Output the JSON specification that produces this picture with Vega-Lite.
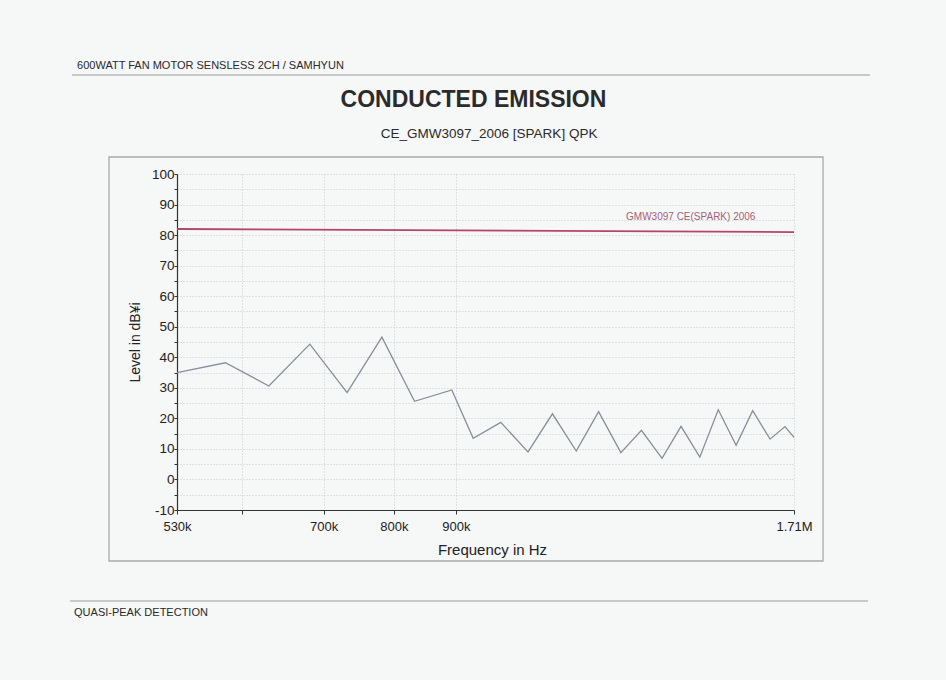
{
  "$schema": "https://vega.github.io/schema/vega-lite/v6.json",
  "width": 617,
  "height": 336,
  "autosize": {"type": "none"},
  "padding": {"left": 177, "top": 174, "right": 152, "bottom": 170},
  "background": "#f6f7f7",
  "config": {
    "view": {"stroke": null},
    "font": "Liberation Sans",
    "axis": {"labelFont": "Liberation Sans", "titleFont": "Liberation Sans"}
  },
  "datasets": {
    "measurement": [
      {"freq": 530000, "level": 35.0},
      {"freq": 581000, "level": 38.2},
      {"freq": 631000, "level": 30.6},
      {"freq": 682000, "level": 44.3},
      {"freq": 732000, "level": 28.4},
      {"freq": 782000, "level": 46.6},
      {"freq": 832000, "level": 25.6},
      {"freq": 893000, "level": 29.3},
      {"freq": 930000, "level": 13.5},
      {"freq": 980000, "level": 18.7},
      {"freq": 1032000, "level": 9.0},
      {"freq": 1081000, "level": 21.5},
      {"freq": 1131000, "level": 9.3},
      {"freq": 1180000, "level": 22.2},
      {"freq": 1231000, "level": 8.8},
      {"freq": 1280000, "level": 16.1},
      {"freq": 1331000, "level": 6.9},
      {"freq": 1380000, "level": 17.4},
      {"freq": 1430000, "level": 7.3},
      {"freq": 1481000, "level": 22.8},
      {"freq": 1532000, "level": 11.2},
      {"freq": 1581000, "level": 22.5},
      {"freq": 1634000, "level": 13.2},
      {"freq": 1681000, "level": 17.3},
      {"freq": 1710000, "level": 13.8}
    ],
    "limit": [
      {"freq": 530000, "level": 82.0, "label": "GMW3097 CE(SPARK) 2006"},
      {"freq": 1710000, "level": 81.0, "label": "GMW3097 CE(SPARK) 2006"}
    ],
    "header": [{"text": "600WATT FAN MOTOR SENSLESS 2CH / SAMHYUN"}],
    "title": [{"text": "CONDUCTED EMISSION"}],
    "subtitle": [{"text": "CE_GMW3097_2006 [SPARK] QPK"}],
    "footer": [{"text": "QUASI-PEAK DETECTION"}]
  },
  "encoding": {
    "x": {
      "type": "quantitative",
      "scale": {"type": "log", "domain": [530000, 1710000], "nice": false},
      "axis": {
        "title": "Frequency in Hz",
        "values": [530000, 600000, 700000, 800000, 900000, 1710000],
        "labelExpr": "datum.value >= 1000000 ? format(datum.value / 1000000, '.3~') + 'M' : (datum.value == 600000 ? '' : format(datum.value / 1000, 'd') + 'k')",
        "labelFontSize": 13,
        "labelColor": "#222222",
        "labelPadding": 6,
        "labelFlush": false,
        "labelOverlap": false,
        "tickSize": 4,
        "tickColor": "#333333",
        "domainColor": "#333333",
        "domainWidth": 1.2,
        "titleFontSize": 15,
        "titleFontWeight": "normal",
        "titleColor": "#222222",
        "titlePadding": 9,
        "titleX": 315,
        "grid": true,
        "gridColor": "#c9cccc",
        "gridDash": [1, 2],
        "gridWidth": 1
      }
    },
    "y": {
      "type": "quantitative",
      "scale": {"domain": [-10, 100], "nice": false, "zero": false},
      "axis": {
        "title": "Level in dB¥i",
        "values": [-10, -5, 0, 5, 10, 15, 20, 25, 30, 35, 40, 45, 50, 55, 60, 65, 70, 75, 80, 85, 90, 95, 100],
        "labelExpr": "datum.value % 10 == 0 ? '' + datum.value : ''",
        "labelFontSize": 13.5,
        "labelColor": "#222222",
        "labelPadding": 0,
        "labelOverlap": false,
        "labelFlush": false,
        "tickSize": 3,
        "tickColor": "#333333",
        "domainColor": "#333333",
        "domainWidth": 1.2,
        "titleFontSize": 14,
        "titleFontWeight": "normal",
        "titleColor": "#222222",
        "titlePadding": 9,
        "grid": true,
        "gridColor": "#c9cccc",
        "gridDash": [1, 2],
        "gridWidth": 1
      }
    }
  },
  "layer": [
    {
      "data": {"name": "measurement"},
      "mark": {"type": "line", "color": "#878f98", "strokeWidth": 1.3},
      "encoding": {
        "x": {"field": "freq", "type": "quantitative"},
        "y": {"field": "level", "type": "quantitative"}
      }
    },
    {
      "data": {"name": "header"},
      "mark": {"type": "rect", "filled": false, "stroke": "#a9abab", "strokeWidth": 1.3},
      "encoding": {
        "x": {"datum": 465800, "type": "quantitative"},
        "x2": {"datum": 1806900},
        "y": {"datum": 105.57, "type": "quantitative"},
        "y2": {"datum": -26.7}
      }
    },
    {
      "data": {"name": "header"},
      "mark": {"type": "rule", "stroke": "#9a9c9c", "strokeWidth": 1},
      "encoding": {
        "x": {"datum": 434256, "type": "quantitative"},
        "x2": {"datum": 1975469},
        "y": {"datum": 132.41, "type": "quantitative"}
      }
    },
    {
      "data": {"name": "footer"},
      "mark": {"type": "rule", "stroke": "#9a9c9c", "strokeWidth": 1},
      "encoding": {
        "x": {"datum": 432607, "type": "quantitative"},
        "x2": {"datum": 1968063},
        "y": {"datum": -39.79, "type": "quantitative"}
      }
    },
    {
      "data": {"name": "header"},
      "mark": {"type": "text", "align": "left", "baseline": "alphabetic", "fontSize": 11, "color": "#2a2a2a", "font": "Liberation Sans"},
      "encoding": {
        "x": {"datum": 438448, "type": "quantitative"},
        "y": {"datum": 134.38, "type": "quantitative"},
        "text": {"field": "text"}
      }
    },
    {
      "data": {"name": "title"},
      "mark": {"type": "text", "align": "center", "baseline": "alphabetic", "fontSize": 23, "fontWeight": "bold", "color": "#2b2b2b", "font": "Liberation Sans"},
      "encoding": {
        "x": {"datum": 930500, "type": "quantitative"},
        "y": {"datum": 121.93, "type": "quantitative"},
        "text": {"field": "text"}
      }
    },
    {
      "data": {"name": "subtitle"},
      "mark": {"type": "text", "align": "center", "baseline": "alphabetic", "fontSize": 13.5, "color": "#2a2a2a", "font": "Liberation Sans"},
      "encoding": {
        "x": {"datum": 958500, "type": "quantitative"},
        "y": {"datum": 111.79, "type": "quantitative"},
        "text": {"field": "text"}
      }
    },
    {
      "data": {"name": "footer"},
      "mark": {"type": "text", "align": "left", "baseline": "alphabetic", "fontSize": 11, "color": "#2a2a2a", "font": "Liberation Sans"},
      "encoding": {
        "x": {"datum": 435910, "type": "quantitative"},
        "y": {"datum": -44.7, "type": "quantitative"},
        "text": {"field": "text"}
      }
    },
    {
      "data": {"name": "limit"},
      "mark": {"type": "line", "color": "#b4456a", "strokeWidth": 1.8},
      "encoding": {
        "x": {"field": "freq", "type": "quantitative"},
        "y": {"field": "level", "type": "quantitative"}
      }
    },
    {
      "data": {"name": "limit"},
      "transform": [{"filter": "datum.freq == 530000"}],
      "mark": {"type": "text", "align": "left", "baseline": "alphabetic", "fontSize": 10, "color": "#a65f79", "font": "Liberation Sans"},
      "encoding": {
        "x": {"datum": 1243200, "type": "quantitative"},
        "y": {"datum": 85.1, "type": "quantitative"},
        "text": {"field": "label"}
      }
    }
  ]
}
